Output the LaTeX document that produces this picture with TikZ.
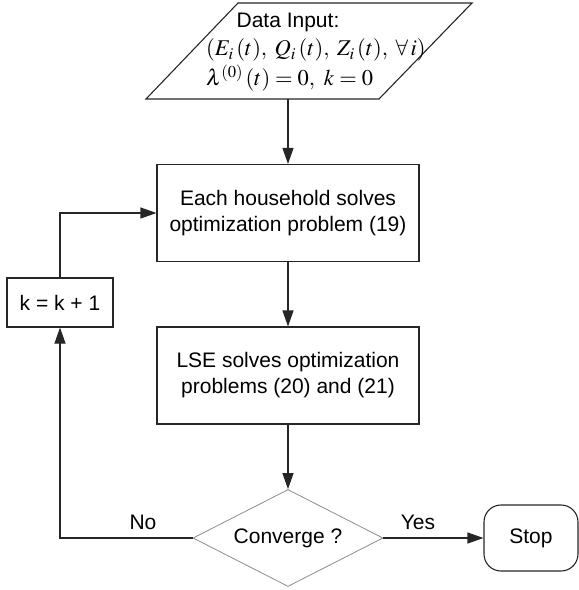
\documentclass[tikz,border=0pt]{standalone}
\usepackage{mathptmx}
\usepackage{fontspec}
\setmainfont{Liberation Sans}
\usetikzlibrary{shapes.geometric,arrows.meta}
\tikzset{
  txt/.style={font=\fontsize{21}{26}\selectfont, text=black},
  mathtxt/.style={font=\fontsize{22.5}{27}\selectfont, text=black, inner sep=0pt},
  procbox/.style={txt, draw=black!85, line width=1.1pt, align=center, minimum width=262pt, minimum height=97pt, inner sep=0pt},
  smallbox/.style={txt, draw=black!85, line width=1.1pt, minimum width=106pt, minimum height=49pt, inner sep=0pt},
  decision/.style={txt, diamond, shape aspect=2, draw=black!45, line width=0.8pt, minimum width=190pt, minimum height=97pt, inner sep=0pt},
  termbox/.style={txt, draw=black!85, line width=1.1pt, rounded corners=17pt, minimum width=94pt, minimum height=66pt, inner sep=0pt},
  flow/.style={draw=black!85, line width=1.1pt, -{Triangle[length=16pt,width=11pt]}},
  plain/.style={draw=black!85, line width=1.1pt},
  lbl/.style={txt, inner sep=0pt}
}
\begin{document}
\begin{tikzpicture}[x=1pt, y=-1pt]
\useasboundingbox (0,0) rectangle (579,590);
% input parallelogram
\draw[plain] (146,99) -- (238,3) -- (472,3) -- (379,99) -- cycle;
\node[lbl] (inA) at (288,22) {Data Input:};
\node[mathtxt, anchor=west] (inB) at (206,50) {$(E_i\,(t),\; Q_i\,(t),\; Z_i\,(t),\; \forall\, i)$};
\node[mathtxt, anchor=west] (inC) at (206,78) {$\lambda^{(0)}\,(t) = 0,\ k = 0$};
\coordinate (inBot) at (288,99);
% process boxes
\node[procbox] (b1) at (288,213) {Each household solves\\optimization problem (19)};
\node[procbox] (b2) at (288,375.5) {LSE solves optimization\\problems (20) and (21)};
\node[smallbox] (k) at (60,302.5) {k = k + 1};
\node[decision] (d) at (288,538) {Converge ?};
\node[termbox] (s) at (531,538) {Stop};
% connectors
\draw[flow] (inBot) -- (b1.north);
\draw[flow] (b1.south) -- (b2.north);
\draw[flow] (b2.south) -- (d.north);
\draw[flow] (d.east) -- (s.west);
\draw[flow] (d.west) -| (k.south);
\draw[flow] (k.north) |- (b1.west);
% labels
\node[lbl] (no) at (143,522) {No};
\node[lbl] (yes) at (418,522) {Yes};
\end{tikzpicture}
\end{document}
